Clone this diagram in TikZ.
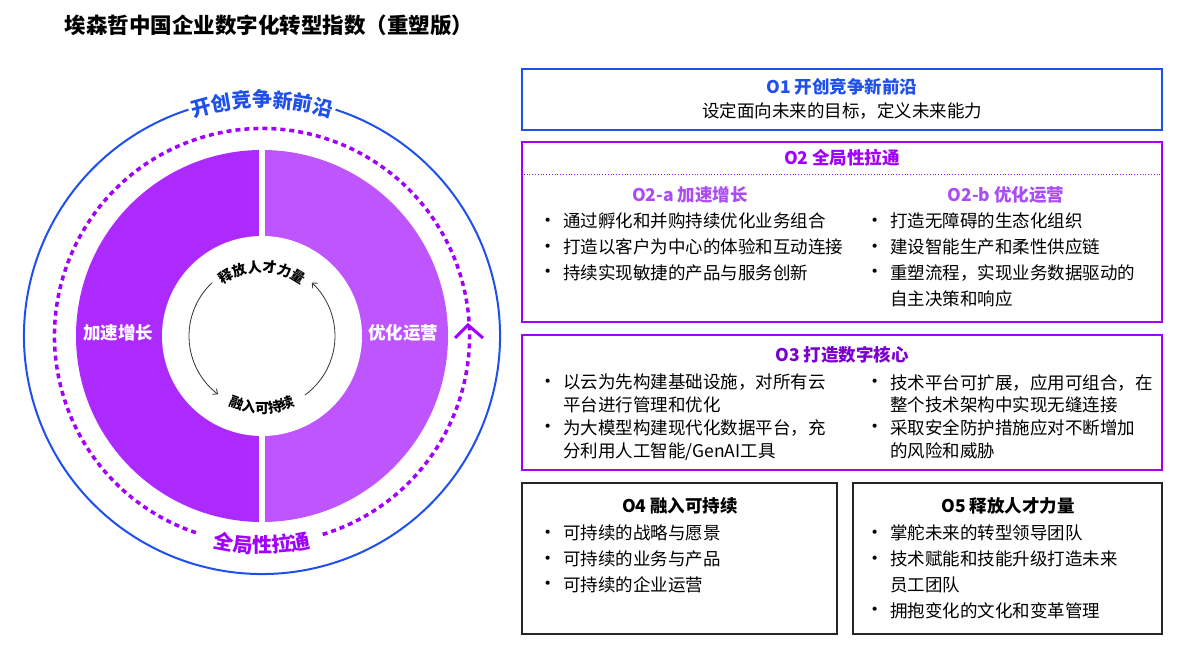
\documentclass[tikz,border=0pt]{standalone}
\usepackage{fontspec}
\setmainfont{Noto Sans CJK SC}
\usepackage{xcolor}
\usetikzlibrary{decorations.text, arrows.meta}
\definecolor{accblue}{HTML}{1F50EB}
\definecolor{accpurple}{HTML}{A100FF}
\definecolor{leftpurple}{HTML}{AD2AFF}
\definecolor{rightpurple}{HTML}{BE55FF}
\definecolor{corepurple}{HTML}{7F00CC}
\definecolor{subpurple}{HTML}{AB4DF5}
\definecolor{darkpurple}{HTML}{7A00D0}
\newcommand{\bul}{\makebox[21pt][l]{\hspace{-4pt}\raisebox{0.5pt}{\scalebox{1.1}{•}}}}
\newcommand{\ind}{\makebox[21pt]{}}

\begin{document}
\begin{tikzpicture}[x=1pt, y=1pt,
  panel/.style={draw, line width=2pt, fill=white, inner sep=0pt},
  head/.style={font=\bfseries\fontsize{17.5}{20}\selectfont},
  body/.style={font=\fontsize{17.5}{20}\selectfont},
  items/.style={anchor=north west, align=left, inner sep=0pt, font=\fontsize{17.5}{25.7}\selectfont},
  tightitems/.style={items, font=\fontsize{17.5}{22.7}\selectfont},
  ringtext/.style={white, font=\bfseries\fontsize{17.5}{24}\selectfont, align=center},
  cyclearrow/.style={draw=black!80, line width=0.8pt, -{Straight Barb[length=4pt, width=7pt]}}]
\useasboundingbox (0,0) rectangle (1189,653);

\node[anchor=west, font=\bfseries\fontsize{21.5}{24}\selectfont] (title) at (61,628) {埃森哲中国企业数字化转型指数（重塑版）};

\coordinate (ctr) at (262,317);
\draw[accblue, line width=2pt] (ctr) ++(108:238) arc (108:432:238);
\path[decorate, decoration={text along path, text align=center,
  text={|\bfseries\fontsize{20}{20}\selectfont\color{accblue}|开创竞争新前沿}}]
  (ctr) ++(125:229) arc (125:55:229);
\draw[accpurple, line width=3.5pt, dash pattern=on 5pt off 4pt] (ctr) ++(287:207.5) arc (287:612:207.5);
\path[decorate, decoration={text along path, text align=center,
  text={|\bfseries\fontsize{20}{20}\selectfont\color{accpurple}|全局性拉通}}]
  (ctr) ++(238:217) arc (238:302:217);
\draw[accpurple, line width=3pt] (455,315) -- (468,328) -- (483,315);

\fill[leftpurple] (ctr) -- ++(90:186) arc (90:270:186) -- cycle;
\fill[rightpurple] (ctr) -- ++(-90:186) arc (-90:90:186) -- cycle;
\fill[white] (ctr) circle (100);
\draw[white, line width=6pt] (ctr) ++(0,-190) -- ++(0,380);
\node[ringtext] (grow) at (118,320) {加速增长};
\node[ringtext] (oper) at (403,320) {优化运营};
\node[circle, fill=corepurple, minimum size=100pt, inner sep=0pt, ringtext] (core) at (ctr) {打造\\[-2pt]数字核心};

\draw[cyclearrow] (ctr) ++(133:73) arc (133:233:73);
\draw[cyclearrow] (ctr) ++(-54:73) arc (-54:47:73);
\path[decorate, decoration={text along path, text align=center,
  text={|\bfseries\fontsize{14}{14}\selectfont|释放人才力量}}]
  (ctr) ++(160:64) arc (160:20:64);
\path[decorate, decoration={text along path, text align=center,
  text={|\bfseries\fontsize{14}{14}\selectfont|融入可持续}}]
  (ctr) ++(210:77) arc (210:330:77);

\node[panel, draw=accblue, minimum width=640pt, minimum height=61pt] (o1) at (842,553.5) {};
\node[head, text=accblue] (o1h) at (842,566) {O1 开创竞争新前沿};
\node[body] (o1b) at (842,542) {设定面向未来的目标，定义未来能力};

\node[panel, draw=accpurple, minimum width=640pt, minimum height=180pt] (o2) at (842,421) {};
\node[head, text=accpurple] (o2h) at (842,495) {O2 全局性拉通};
\draw[accpurple, line width=0.8pt, dotted] (o2.west |- 0,479) -- (o2.east |- 0,479);
\node[head, text=subpurple] (o2a) at (690,458) {O2-a 加速增长};
\node[head, text=subpurple] (o2b) at (1006,458) {O2-b 优化运营};
\node[items] (o2al) at (542,440) {\bul 通过孵化和并购持续优化业务组合\\
  \bul 打造以客户为中心的体验和互动连接\\
  \bul 持续实现敏捷的产品与服务创新};
\node[items] (o2bl) at (869,440) {\bul 打造无障碍的生态化组织\\
  \bul 建设智能生产和柔性供应链\\
  \bul 重塑流程，实现业务数据驱动的\\
  \ind 自主决策和响应};

\node[panel, draw=accpurple, minimum width=640pt, minimum height=135pt] (o3) at (842,250.5) {};
\node[head, text=darkpurple] (o3h) at (842,298) {O3 打造数字核心};
\node[tightitems] (o3l) at (542,279) {\bul 以云为先构建基础设施，对所有云\\
  \ind 平台进行管理和优化\\
  \bul 为大模型构建现代化数据平台，充\\
  \ind 分利用人工智能/GenAI工具};
\node[tightitems] (o3r) at (869,279) {\bul 技术平台可扩展，应用可组合，在\\
  \ind 整个技术架构中实现无缝连接\\
  \bul 采取安全防护措施应对不断增加\\
  \ind 的风险和威胁};

\node[panel, draw=black!85, minimum width=315pt, minimum height=151pt] (o4) at (679.5,94.5) {};
\node[head] (o4h) at (680,147) {O4 融入可持续};
\node[items] (o4l) at (542,128) {\bul 可持续的战略与愿景\\
  \bul 可持续的业务与产品\\
  \bul 可持续的企业运营};

\node[panel, draw=black!85, minimum width=309pt, minimum height=151pt] (o5) at (1007.5,94.5) {};
\node[head] (o5h) at (1008,147) {O5 释放人才力量};
\node[items] (o5l) at (869,128) {\bul 掌舵未来的转型领导团队\\
  \bul 技术赋能和技能升级打造未来\\
  \ind 员工团队\\
  \bul 拥抱变化的文化和变革管理};
\end{tikzpicture}
\end{document}
